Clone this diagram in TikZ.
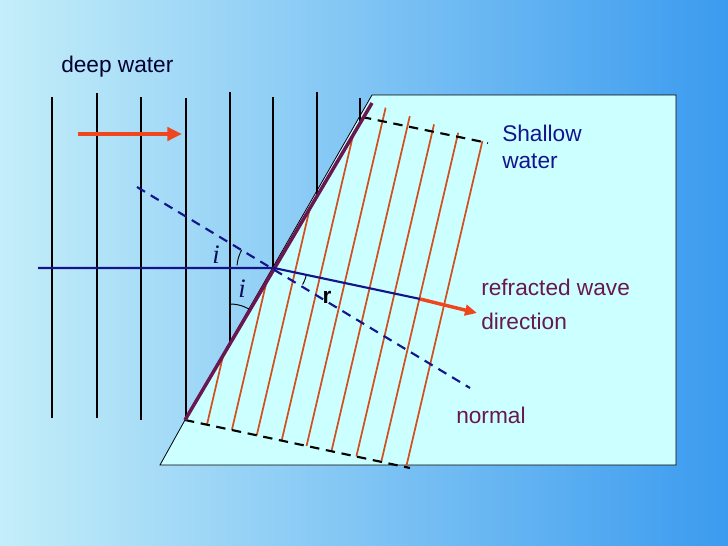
\documentclass[tikz,border=0pt]{standalone}
\usepackage{fontspec}
\setmainfont{Liberation Sans}
\newfontfamily\serifi{Liberation Serif}
\usetikzlibrary{arrows.meta}
\definecolor{bgl}{HTML}{C4EEF9}
\definecolor{bgr}{HTML}{3B9BEF}
\definecolor{shal}{HTML}{CCFFFF}
\definecolor{navy}{HTML}{14148C}
\definecolor{purp}{HTML}{6A1650}
\definecolor{orng}{HTML}{D2501E}
\definecolor{redar}{HTML}{F0461E}
\begin{document}
\begin{tikzpicture}[x=0.75pt,y=-0.75pt,
  wave/.style={black,line width=1.8pt},
  refr/.style={orng,line width=1.3pt},
  edge/.style={black,line width=1.6pt,dash pattern=on 7pt off 5pt},
  arcst/.style={black,line width=0.7pt},
  lbl/.style={font=\fontsize{17}{20}\selectfont,anchor=north west,align=left,inner sep=0pt}]
\useasboundingbox (0,0) rectangle (728,546);
\shade[left color=bgl,right color=bgr] (0,0) rectangle (728,546);
% shallow region
\filldraw[fill=shal,draw=black,line width=0.6pt] (372,95) -- (676,95) -- (676,465) -- (160,465) -- (185,420) -- cycle;
% deep water wavefronts
\foreach \x/\t/\b in {52/97/418,97/93/418,141/97/420,186/98/417,230/92/342,273/97/268,317/92/196,360/98/123}
  \draw[wave] (\x,\t) -- (\x,\b);
% refracted wavefronts
\begin{scope}
\clip (372,103) -- (488,143) -- (410,468) -- (185,420) -- cycle;
\foreach \i in {0,...,8}
  \draw[refr] ({208+24.9*\i},{420+5.3*\i}) ++(95,-406) -- ++(-105,449);
\end{scope}
\coordinate (tl) at (362,117); \coordinate (tr) at (488,143);
\coordinate (bl) at (185,420); \coordinate (br) at (410,468);
\draw[edge] (tl) -- (tr);
\draw[edge] (bl) -- (br);
% boundary
\coordinate (btop) at (372,103);
\draw[purp,line width=2.6pt] (btop) -- (bl);
% rays
\coordinate (o) at (274,268);
\coordinate (inc) at (38,268);
\coordinate (rr) at (425,300);
\coordinate (ra) at (477,313);
\draw[navy,line width=1.6pt] (inc) -- (o) -- (rr);
\draw[redar,line width=2.6pt,-{Triangle[length=9pt,width=8pt]}] (420,299) -- (ra);
\coordinate (n1) at (137,187); \coordinate (n2) at (470,388);
\draw[navy,line width=1.6pt,dash pattern=on 7pt off 5pt] (n1) -- (n2);
% angle arcs
\draw[arcst] plot[domain=184:209,samples=12] ({274+37*cos(\x)},{268+37*sin(\x)});
\draw[arcst] plot[domain=270:300.7,samples=12] ({230+38*cos(\x)},{342+38*sin(\x)});
\draw[arcst] plot[domain=13:30,samples=10] ({274+33*cos(\x)},{268+33*sin(\x)});
% arrow deep water
\draw[redar,line width=2.6pt,-{Triangle[length=11pt,width=10pt]}] (78,134) -- (182,134);
% labels
\node[lbl,text=black!80!blue] (dw) at (61,56) {deep water};
\node[lbl,text=navy] (sw) at (502,125) {Shallow\\water};
\node[lbl,text=purp,align=left,font=\fontsize{17}{25}\selectfont] (rw) at (481,279) {refracted wave\\direction};
\node[lbl,text=purp] (nm) at (456,407) {normal};
\node[font=\fontsize{20}{20}\selectfont\serifi\itshape,text=navy!60!black] (i1) at (216,255) {i};
\node[font=\fontsize{20}{20}\selectfont\serifi\itshape,text=navy!60!black] (i2) at (242,289) {i};
\node[font=\fontsize{17}{17}\selectfont\bfseries,text=black] (r) at (327,297) {r};
\end{tikzpicture}
\end{document}
